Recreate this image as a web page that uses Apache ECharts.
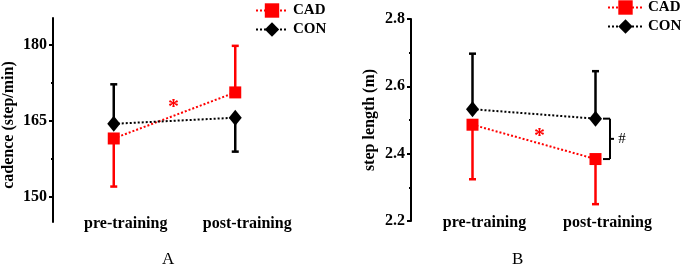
<!DOCTYPE html>
<html>
<head>
<meta charset="utf-8">
<script src="https://cdn.jsdelivr.net/npm/echarts@6/dist/echarts.min.js"></script>
<style>
  html, body {margin: 0; padding: 0; background: #fff;}
  #chart {width: 687px; height: 264px;}
</style>
</head>
<body>
<div id="chart"></div>
<script>
const categories = ['pre-training', 'post-training'];

// panel A: cadence (step/min)
const cadenceCAD = [161.5, 170.6];
const cadenceCADErr = [152.0, 179.8];
const cadenceCON = [164.4, 165.6];
const cadenceCONErr = [172.2, 158.9];
const cadenceTicks = [150, 165, 180];
const cadenceMinorTicks = [157.5, 172.5];

// panel B: step length (m)
const stepCAD = [2.486, 2.384];
const stepCADErr = [2.324, 2.25];
const stepCON = [2.532, 2.504];
const stepCONErr = [2.697, 2.645];
const stepTicks = [2.2, 2.4, 2.6, 2.8];
const stepMinorTicks = [2.3, 2.5, 2.7];

const RED = '#ff0000';
const BLACK = '#000000';
const FONT = "'Liberation Serif', 'Times New Roman', serif";

const chart = echarts.init(document.getElementById('chart'));

function errorBars(xIdx, yIdx, means, ends, color) {
  return {
    type: 'custom',
    xAxisIndex: xIdx,
    yAxisIndex: yIdx,
    z: 1,
    silent: true,
    data: means.map((m, i) => [i, m, ends[i]]),
    renderItem(params, api) {
      const p0 = api.coord([api.value(0), api.value(1)]);
      const p1 = api.coord([api.value(0), api.value(2)]);
      const style = {stroke: color, lineWidth: 2.5};
      return {
        type: 'group',
        children: [
          {type: 'line', shape: {x1: p0[0], y1: p0[1], x2: p1[0], y2: p1[1]}, style},
          {type: 'line', shape: {x1: p1[0] - 3.5, y1: p1[1], x2: p1[0] + 3.5, y2: p1[1]}, style}
        ]
      };
    }
  };
}

function meanLine(name, xIdx, yIdx, data, color, symbol, size) {
  return {
    name,
    type: 'line',
    xAxisIndex: xIdx,
    yAxisIndex: yIdx,
    z: 3,
    data,
    symbol,
    symbolSize: size,
    showSymbol: true,
    itemStyle: {color, opacity: 1},
    lineStyle: {color, width: 2, type: 'dotted'}
  };
}

function xAxis(gridIndex) {
  return {
    type: 'category',
    gridIndex,
    data: categories,
    boundaryGap: true,
    axisLine: {show: false},
    axisTick: {show: false},
    axisLabel: {
      margin: -6,
      color: BLACK,
      fontFamily: FONT,
      fontWeight: 'bold',
      fontSize: 16,
      padding: [0, 0, 0, 24]
    }
  };
}

function yAxes(gridIndex, min, max, ticks, minor, name, nameGap, namePad) {
  return [{
    type: 'value',
    gridIndex,
    position: 'left',
    min, max,
    name,
    nameLocation: 'middle',
    nameGap,
    nameTextStyle: {color: BLACK, fontFamily: FONT, fontWeight: 'bold', fontSize: 16, padding: namePad},
    splitLine: {show: false},
    axisLine: {show: true, lineStyle: {color: BLACK, width: 2}},
    axisTick: {show: true, length: 4, customValues: ticks, lineStyle: {color: BLACK, width: 2}},
    axisLabel: {
      customValues: ticks,
      margin: 6,
      color: BLACK,
      fontFamily: FONT,
      fontWeight: 'bold',
      fontSize: 16
    }
  }, {
    type: 'value',
    gridIndex,
    position: 'left',
    offset: 0,
    min, max,
    splitLine: {show: false},
    axisLine: {show: false},
    axisTick: {show: true, length: 2, customValues: minor, lineStyle: {color: BLACK, width: 2}},
    axisLabel: {show: false}
  }];
}

function legend(left, top, width) {
  return {
    orient: 'vertical',
    left, top,
    padding: 0,
    data: ['CAD', 'CON'],
    itemWidth: width,
    itemHeight: 18,
    itemGap: 4,
    selectedMode: false,
    textStyle: {color: BLACK, fontFamily: FONT, fontWeight: 'bold', fontSize: 15}
  };
}

chart.setOption({
  animation: false,
  backgroundColor: '#fff',
  grid: [
    {left: 52, top: 18, width: 244, height: 204},
    {left: 411, top: 19, width: 246, height: 202}
  ],
  legend: [legend(255, 3, 32), legend(607, 0, 35)],
  xAxis: [xAxis(0), xAxis(1)],
  yAxis: [
    ...yAxes(0, 145, 185.3, cadenceTicks, cadenceMinorTicks, 'cadence (step/min)', 36, [0, 10, 0, 0]),
    ...yAxes(1, 2.2, 2.8, stepTicks, stepMinorTicks, 'step length (m)', 33, 0)
  ],
  series: [
    errorBars(0, 0, cadenceCAD, cadenceCADErr, RED),
    errorBars(0, 0, cadenceCON, cadenceCONErr, BLACK),
    meanLine('CAD', 0, 0, cadenceCAD, RED, 'rect', 12),
    meanLine('CON', 0, 0, cadenceCON, BLACK, 'diamond', [13, 16]),
    errorBars(1, 2, stepCAD, stepCADErr, RED),
    errorBars(1, 2, stepCON, stepCONErr, BLACK),
    meanLine('CAD', 1, 2, stepCAD, RED, 'rect', 12),
    meanLine('CON', 1, 2, stepCON, BLACK, 'diamond', [13, 16]),
    {
      // significance bracket between the post-training groups
      type: 'custom',
      xAxisIndex: 1,
      yAxisIndex: 2,
      silent: true,
      data: [[1, stepCON[1], stepCAD[1]]],
      renderItem(params, api) {
        const top = api.coord([api.value(0), api.value(1)]);
        const bot = api.coord([api.value(0), api.value(2)]);
        const x = top[0] + 14.5;
        const mid = (top[1] + bot[1]) / 2;
        const style = {stroke: BLACK, lineWidth: 2};
        return {
          type: 'group',
          children: [
            {type: 'line', shape: {x1: x - 7, y1: top[1], x2: x, y2: top[1]}, style},
            {type: 'line', shape: {x1: x, y1: top[1], x2: x, y2: bot[1]}, style},
            {type: 'line', shape: {x1: x - 7, y1: bot[1], x2: x, y2: bot[1]}, style},
            {type: 'line', shape: {x1: x, y1: mid, x2: x + 4, y2: mid}, style},
            {type: 'text', style: {text: '#', x: x + 12, y: mid, align: 'center', verticalAlign: 'middle',
              fill: BLACK, font: '15px ' + FONT}}
          ]
        };
      }
    }
  ],
  graphic: [
    {type: 'text', left: 168, top: 96, style: {text: '*', fill: RED, font: 'bold 22px ' + FONT}},
    {type: 'text', left: 534, top: 125, style: {text: '*', fill: RED, font: 'bold 22px ' + FONT}},
    {type: 'text', left: 162, top: 251, style: {text: 'A', fill: BLACK, font: '17px ' + FONT}},
    {type: 'text', left: 512, top: 251, style: {text: 'B', fill: BLACK, font: '17px ' + FONT}}
  ]
});
</script>
</body>
</html>
